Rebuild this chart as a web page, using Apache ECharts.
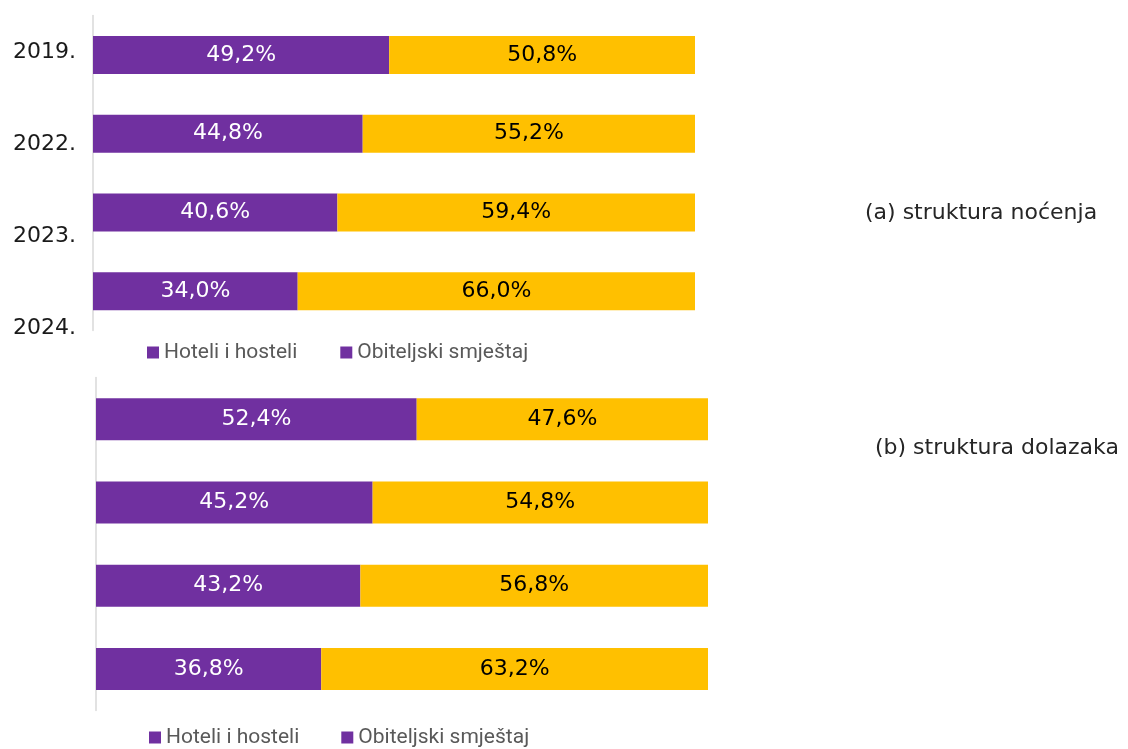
<!DOCTYPE html>
<html>
<head>
<meta charset="utf-8">
<script src="https://cdn.jsdelivr.net/npm/echarts@6/dist/echarts.min.js"></script>
<style>
  html, body { margin: 0; padding: 0; background: #fff; }
  #chart { width: 1128px; height: 749px; }
</style>
</head>
<body>
<div id="chart"></div>
<script>
// podaci
var godine = ['2019.', '2022.', '2023.', '2024.'];
var nocenjaHoteli = [49.2, 44.8, 40.6, 34.0];
var nocenjaObitelj = [50.8, 55.2, 59.4, 66.0];
var dolasciHoteli = [52.4, 45.2, 43.2, 36.8];
var dolasciObitelj = [47.6, 54.8, 56.8, 63.2];
var nazivi = ['Hoteli i hosteli', 'Obiteljski smještaj'];

var ljubicasta = '#7030A0';
var zuta = '#FFC000';

var myChart = echarts.init(document.getElementById('chart'));

function postotak(p) {
    return p.value.toFixed(1).replace('.', ',') + '%';
}

function serija(ime, data, idx, boja, tekst, sirina) {
    return {
        name: ime,
        type: 'bar',
        stack: 's' + idx,
        xAxisIndex: idx,
        yAxisIndex: idx,
        barWidth: sirina,
        itemStyle: {color: boja},
        label: {
            show: true,
            position: 'inside',
            color: tekst,
            fontSize: 22,
            fontFamily: 'DejaVu Sans',
            formatter: postotak
        },
        data: data
    };
}

function legenda(lijevo, gore, razmak) {
    return {
        left: lijevo,
        top: gore,
        padding: 0,
        icon: 'rect',
        itemWidth: 12,
        itemHeight: 12,
        itemGap: razmak,
        itemTextGap: 4,
        textStyle: {color: '#595959', fontSize: 21, fontFamily: 'Roboto'},
        data: [
            {name: nazivi[0], itemStyle: {color: ljubicasta}},
            {name: nazivi[1], itemStyle: {color: ljubicasta}}
        ]
    };
}

var osY = {
    type: 'category',
    inverse: true,
    data: godine,
    axisLine: {show: true, lineStyle: {color: '#d9d9d9', width: 1.5}},
    axisTick: {show: false},
    axisLabel: {show: false}
};

var option = {
    animation: false,
    backgroundColor: '#fff',
    grid: [
        {left: 93, width: 602, top: 15.5, height: 315},
        {left: 96, width: 612, top: 377.5, height: 333},
        {left: 93, width: 10, top: 6, height: 368, show: false}
    ],
    legend: [legenda(147, 342, 43), legenda(149, 727, 42)],
    xAxis: [
        {gridIndex: 0, type: 'value', min: 0, max: 100, show: false},
        {gridIndex: 1, type: 'value', min: 0, max: 100, show: false},
        {gridIndex: 2, type: 'value', min: 0, max: 1, show: false}
    ],
    yAxis: [
        Object.assign({gridIndex: 0}, osY),
        Object.assign({gridIndex: 1}, osY),
        {
            gridIndex: 2,
            type: 'category',
            inverse: true,
            data: godine,
            axisLine: {show: false},
            axisTick: {show: false},
            axisLabel: {
                margin: 17,
                fontSize: 22,
                color: '#1a1a1a',
                fontFamily: 'DejaVu Sans'
            }
        }
    ],
    series: [
        serija(nazivi[0], nocenjaHoteli, 0, ljubicasta, '#ffffff', 38),
        serija(nazivi[1], nocenjaObitelj, 0, zuta, '#000000', 38),
        serija(nazivi[0], dolasciHoteli, 1, ljubicasta, '#ffffff', 42),
        serija(nazivi[1], dolasciObitelj, 1, zuta, '#000000', 42)
    ],
    graphic: [
        {
            type: 'text', left: 865, top: 202,
            style: {text: '(a) struktura noćenja', fill: '#262626', font: '22px "DejaVu Sans"'}
        },
        {
            type: 'text', left: 875, top: 437,
            style: {text: '(b) struktura dolazaka', fill: '#262626', font: '22px "DejaVu Sans"'}
        }
    ]
};

myChart.setOption(option);
</script>
</body>
</html>
